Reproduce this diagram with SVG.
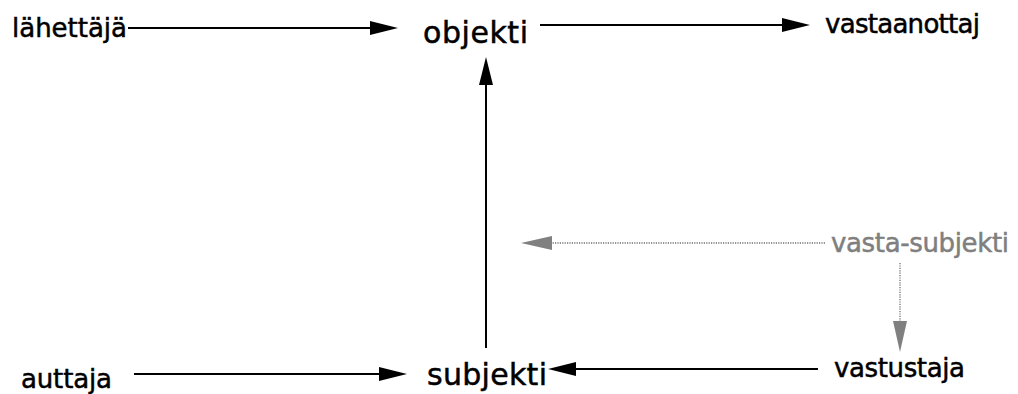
<svg xmlns="http://www.w3.org/2000/svg" width="1018" height="394" viewBox="0 0 1018 394">
<style>
text{font-family:"DejaVu Sans","Liberation Sans",sans-serif;fill:#000;stroke:#000;stroke-width:0.5}
.s{font-size:26px}
.b{font-size:30px}
.g{fill:#7f7f7f;stroke:#7f7f7f}
.ln{stroke:#000;stroke-width:2;fill:none}
.dl{stroke:#707070;stroke-width:1.3;stroke-dasharray:1.2 1.2;fill:none}
</style>
<defs>
<marker id="ah" markerUnits="userSpaceOnUse" markerWidth="30" markerHeight="16" refX="18" refY="7" orient="auto" viewBox="0 0 30 16">
<path d="M0,0 L28,7 L0,14 Z" fill="#000"/>
</marker>
<marker id="ahg" markerUnits="userSpaceOnUse" markerWidth="32" markerHeight="16" refX="20" refY="7" orient="auto" viewBox="0 0 32 16">
<path d="M0,0 L31,7 L0,14 Z" fill="#808080"/>
</marker>
</defs>
<g id="connectors">
<line class="ln" x1="128" y1="28" x2="388" y2="28" marker-end="url(#ah)"/>
<line class="ln" x1="540" y1="25" x2="800" y2="25" marker-end="url(#ah)"/>
<line class="ln" x1="486" y1="348" x2="486" y2="67" marker-end="url(#ah)"/>
<line class="ln" x1="134" y1="374" x2="397" y2="374" marker-end="url(#ah)"/>
<line class="ln" x1="818" y1="369" x2="558" y2="369" marker-end="url(#ah)"/>
<line class="dl" x1="825" y1="243" x2="532" y2="243" marker-end="url(#ahg)"/>
<line class="dl" x1="900" y1="263" x2="900" y2="341" marker-end="url(#ahg)"/>
</g>
<g id="lahettaja"><text class="s" x="12" y="37" textLength="115">lähettäjä</text></g>
<g id="objekti"><text class="b" x="423" y="43" textLength="105">objekti</text></g>
<g id="vastaanottaj"><text class="s" x="825" y="33" textLength="155">vastaanottaj</text></g>
<g id="vasta-subjekti"><text class="s g" x="831" y="252" textLength="178">vasta-subjekti</text></g>
<g id="auttaja"><text class="s" x="21" y="388" textLength="91">auttaja</text></g>
<g id="subjekti"><text class="b" x="427" y="385" textLength="120">subjekti</text></g>
<g id="vastustaja"><text class="s" x="834" y="377" textLength="131">vastustaja</text></g>
</svg>
